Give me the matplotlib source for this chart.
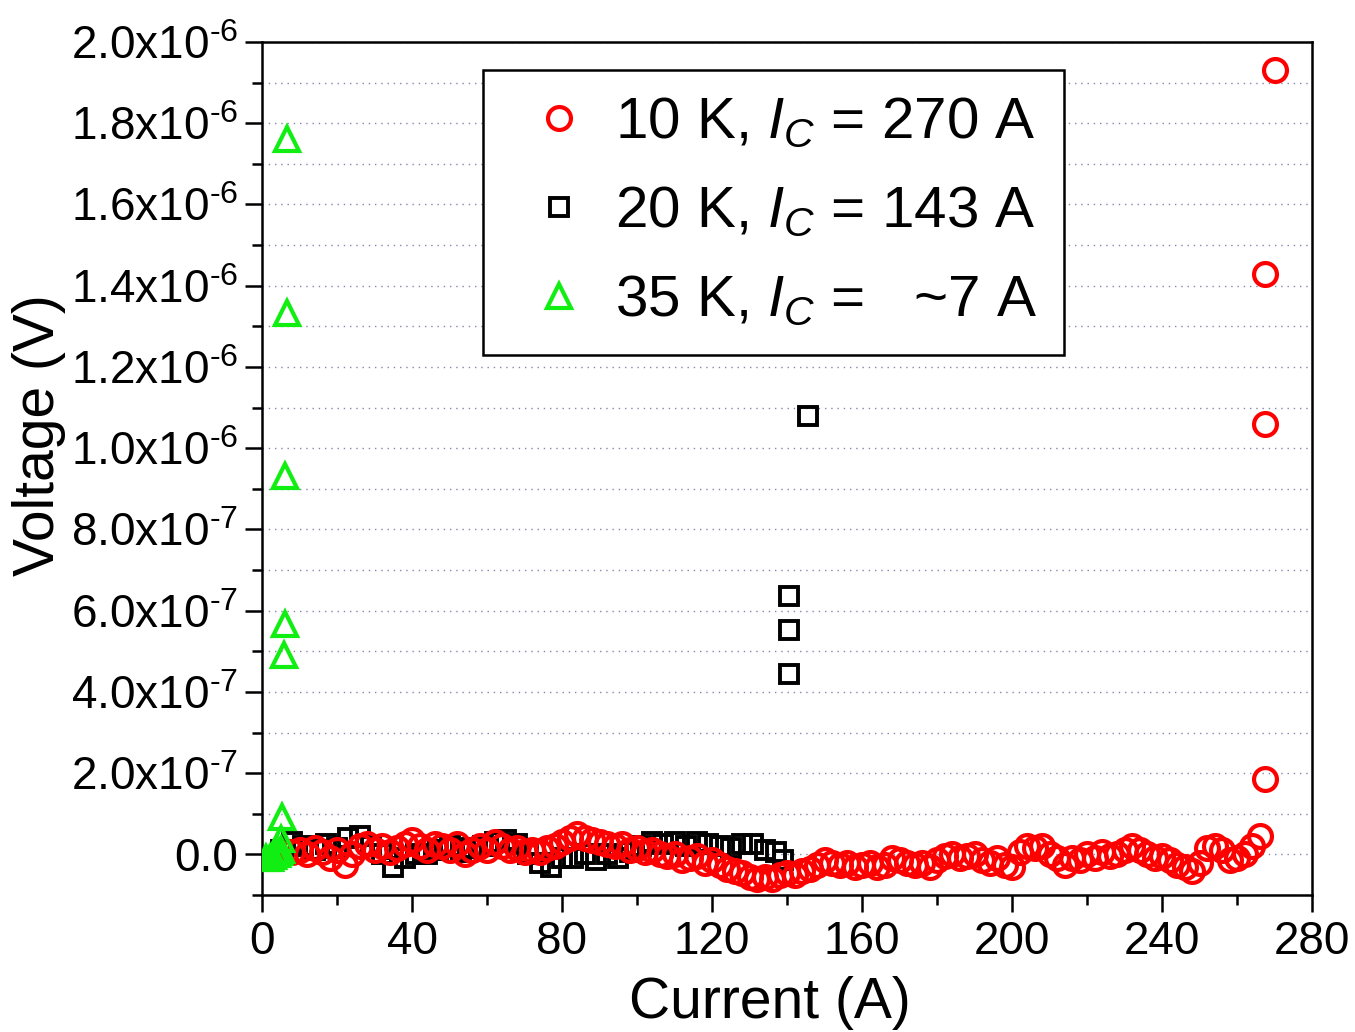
import matplotlib
matplotlib.use("Agg")
import matplotlib.pyplot as plt
from matplotlib.ticker import MultipleLocator, FixedLocator

plt.rcParams['font.family'] = ['Liberation Sans', 'DejaVu Sans']
plt.rcParams['mathtext.fontset'] = 'custom'
plt.rcParams['mathtext.rm'] = 'Liberation Sans'
plt.rcParams['mathtext.it'] = 'Liberation Sans:italic'
plt.rcParams['mathtext.bf'] = 'Liberation Sans:bold'

# ---------------- data ----------------
# 10 K (values in units of 1e-8 V)
i_10k = [8, 10, 12, 14, 16, 18, 20, 22, 24, 26, 28, 30, 32, 34, 36, 38, 40, 42, 44, 46,
         48, 50, 52, 54, 56, 58, 60, 62, 64, 66, 68, 70, 72, 74, 76, 78, 80, 82, 84, 86,
         88, 90, 92, 94, 96, 98, 100, 102, 104, 106, 108, 110, 112, 114, 116, 118, 120,
         122, 124, 126, 128, 130, 132, 134, 136, 138, 140, 142, 144, 146, 148, 150, 152,
         154, 156, 158, 160, 162, 164, 166, 168, 170, 172, 174, 176, 178, 180, 182, 184,
         186, 188, 190, 192, 194, 196, 198, 200, 202, 204, 206, 208, 210, 212, 214, 216,
         218, 220, 222, 224, 226, 228, 230, 232, 234, 236, 238, 240, 242, 244, 246, 248,
         250, 252, 254, 256, 258, 260, 262, 264, 266, 267.5, 267.5, 267.5, 270]
v_10k = [0.5, 1, 0, 1.5, 0.5, -1, 1, -2.5, 0, 2, 2.5, 1, 2, 0.5, 1.5, 2.5, 3.5, 2, 1, 2.5,
         2, 1, 2.5, 0, 1, 2, 1, 3, 2, 1, 1.5, 0.5, 1, 0.5, 1.5, 2, 3, 4, 5, 4,
         3.5, 3, 2.5, 2, 2.5, 1, 1.5, 0.5, 1, 0, -0.5, 0, -1.5, -1, -0.5, -2, -1.5,
         -2.5, -3.5, -4, -4.5, -5.5, -6, -5.5, -6, -5, -4.5, -5, -4, -3.5, -2.5, -1.5, -2,
         -2.5, -2, -3, -2.5, -2, -3, -2.5, -1, -1.5, -2, -2.5, -2, -3, -1.5, -0.5, 0,
         -1, -0.5, 0, -1.5, -2, -1, -2.5, -3, 0.5, 2, 1.5, 2, 0, -1, -2.5, -1,
         -1.5, 0, -1, 0.5, -0.5, 0, 1, 2, 1, 0, -1, -0.5, -1.5, -2.5, -3, -4,
         -2, 1.5, 2, 1, -1.5, -1, 0, 2, 4.5, 18.5, 106, 143, 193]

# 20 K (values in units of 1e-8 V)
i_20k = [5, 8, 11, 14, 17, 20, 23, 26, 29, 32, 35, 38, 41, 44, 47, 50, 53, 56, 59, 62,
         65, 68, 71, 74, 77, 80, 83, 86, 89, 92, 95, 98, 101, 104, 107, 110, 113, 116,
         119, 122, 125, 128, 131, 134, 137, 139, 140.5, 140.5, 140.5, 145.5]
v_20k = [1, 3, 2, 1, 2.5, 1.5, 4, 4.5, 2, 0, -3, -1, 0, 0, 1, 2, 0.5, 1.5, 2, 3,
         3.5, 2.5, 0, -2, -3, -1, -1, 0, -1.5, 0, -1, 0.5, 2, 3, 2.5, 3, 2, 3,
         2.5, 2, 1.5, 2.5, 2.5, 1, 0.5, -1.5, 44.3, 55.3, 63.5, 108]

# 35 K (values in units of 1e-8 V)
i_35k = [1, 2, 3, 4, 4.5, 5, 5, 5.3, 5.9, 6.1, 6.1, 6.7, 6.7]
v_35k = [-1, -1, -0.5, 0, 0.5, 1.2, 3.7, 9.3, 49, 56.8, 93.2, 133.3, 176]

labels = [r'10 K, $\mathit{I}_{\mathit{C}}$ = 270 A',
          r'20 K, $\mathit{I}_{\mathit{C}}$ = 143 A',
          r'35 K, $\mathit{I}_{\mathit{C}}$ =   ~7 A']

x_ticks = [0, 40, 80, 120, 160, 200, 240, 280]
y_ticks = [0.0, 2e-7, 4e-7, 6e-7, 8e-7, 1.0e-6, 1.2e-6, 1.4e-6, 1.6e-6, 1.8e-6, 2.0e-6]
y_tick_labels = ['0.0', r'2.0x10$^{\text{-}7}$', r'4.0x10$^{\text{-}7}$',
                 r'6.0x10$^{\text{-}7}$', r'8.0x10$^{\text{-}7}$',
                 r'1.0x10$^{\text{-}6}$', r'1.2x10$^{\text{-}6}$',
                 r'1.4x10$^{\text{-}6}$', r'1.6x10$^{\text{-}6}$',
                 r'1.8x10$^{\text{-}6}$', r'2.0x10$^{\text{-}6}$']

scale = 1e-8

# ---------------- figure ----------------
fig = plt.figure(figsize=(13.55, 10.32), dpi=100)
ax = fig.add_axes([262/1355, 1-895/1032, (1312-262)/1355, (895-42)/1032])

ax.plot(i_20k, [v*scale for v in v_20k], linestyle='none', marker='s', ms=13,
        mfc='none', mec='black', mew=2.8, label=labels[1], zorder=3)
ax.plot(i_10k, [v*scale for v in v_10k], linestyle='none', marker='o', ms=16.5,
        mfc='none', mec='#ff0000', mew=3.0, label=labels[0], zorder=4)
ax.plot(i_35k, [v*scale for v in v_35k], linestyle='none', marker='^', ms=17,
        mfc='none', mec='#11ee11', mew=3.0, label=labels[2], zorder=5)

ax.set_xlim(0, 280)
ax.set_ylim(-1e-7, 2.0e-6)

ax.xaxis.set_major_locator(FixedLocator(x_ticks))
ax.xaxis.set_minor_locator(MultipleLocator(20))
ax.yaxis.set_major_locator(FixedLocator(y_ticks))
ax.set_yticklabels(y_tick_labels)
ax.yaxis.set_minor_locator(MultipleLocator(1e-7))

ax.tick_params(axis='both', which='major', direction='out', length=12, width=1.8,
               labelsize=33, pad=6)
ax.tick_params(axis='y', which='major', pad=5)
ax.tick_params(axis='both', which='minor', direction='out', length=7, width=1.8)
ax.tick_params(top=False, right=False, which='both')
for s in ax.spines.values():
    s.set_linewidth(1.8)

ax.set_axisbelow(True)
ax.yaxis.grid(True, which='both', linestyle=(0, (1, 3.5)), color='#8585b0', linewidth=1.0)

ax.set_xlabel('Current (A)', fontsize=41)
ax.xaxis.set_label_coords((770-262)/1050, (895-976)/853)
ax.set_ylabel('Voltage (V)', fontsize=41)
ax.yaxis.set_label_coords((66-262)/1050, (895-435)/853)

h, l = ax.get_legend_handles_labels()
order = [1, 0, 2]
leg = ax.legend([h[k] for k in order], [l[k] for k in order],
                loc='upper left', bbox_to_anchor=(0.2105, 0.967), borderaxespad=0,
                fontsize=42, numpoints=1, handlelength=1.7, handletextpad=0.12,
                labelspacing=0.6, borderpad=0.45, fancybox=False, framealpha=1,
                edgecolor='black')
leg.get_frame().set_linewidth(1.8)

fig.savefig('out.png', dpi=100)
